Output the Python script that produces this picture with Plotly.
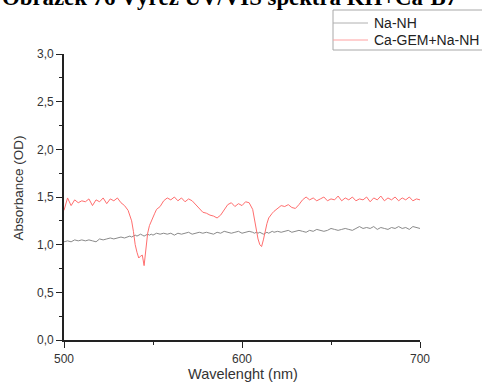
import plotly.graph_objects as go

# Wavelength grid (nm): 2 nm steps, 1 nm steps across the two absorption dips
wavelength = (list(range(500, 536, 2)) + list(range(536, 553)) +
              list(range(554, 606, 2)) + list(range(606, 619)) +
              list(range(620, 701, 2)))

# Absorbance (OD) of the reference sample
na_nh = [1.03, 1.04, 1.03, 1.05, 1.04, 1.05, 1.04, 1.05, 1.04, 1.03, 1.06, 1.05, 1.06, 1.07, 1.06, 1.07, 1.08, 1.07,
         1.08, 1.09, 1.08, 1.09, 1.10, 1.09, 1.10, 1.11, 1.10, 1.09, 1.10, 1.11, 1.10, 1.11, 1.10, 1.11, 1.12,
         1.11, 1.12, 1.11, 1.12, 1.10, 1.12, 1.11, 1.12, 1.13, 1.11, 1.12, 1.13, 1.12, 1.13, 1.12, 1.11, 1.13, 1.12,
         1.14, 1.13, 1.12, 1.13, 1.14, 1.12, 1.13, 1.14,
         1.13, 1.12, 1.13, 1.12, 1.13, 1.12, 1.11, 1.12, 1.13, 1.12, 1.13, 1.14, 1.13,
         1.14, 1.13, 1.14, 1.15, 1.13, 1.14, 1.15, 1.14, 1.13, 1.15, 1.14, 1.16, 1.15, 1.14, 1.15, 1.17, 1.16, 1.15,
         1.16, 1.17, 1.16, 1.15, 1.17, 1.19, 1.17, 1.18, 1.17, 1.19, 1.16, 1.18, 1.17, 1.16, 1.18, 1.17, 1.19, 1.17,
         1.18, 1.16, 1.19, 1.18, 1.17]

# Absorbance (OD) of Ca-GEM + Na-NH
ca_gem_na_nh = [1.36, 1.49, 1.41, 1.47, 1.44, 1.46, 1.45, 1.48, 1.41, 1.47, 1.45, 1.49, 1.43, 1.48, 1.46, 1.49, 1.44, 1.41,
                1.36, 1.31, 1.25, 1.14, 1.00, 0.92, 0.86, 0.88, 0.89, 0.78, 0.95, 1.12, 1.20, 1.25, 1.29, 1.33, 1.37,
                1.40, 1.46, 1.49, 1.47, 1.50, 1.46, 1.49, 1.45, 1.48, 1.46, 1.42, 1.37, 1.34, 1.33, 1.31, 1.30, 1.28, 1.31,
                1.37, 1.42, 1.44, 1.40, 1.43, 1.41, 1.45, 1.44,
                1.37, 1.27, 1.15, 1.06, 1.00, 0.98, 1.05, 1.15, 1.22, 1.28, 1.31, 1.33, 1.35,
                1.38, 1.41, 1.40, 1.42, 1.39, 1.38, 1.42, 1.47, 1.50, 1.47, 1.49, 1.46, 1.48, 1.50, 1.46, 1.48, 1.47, 1.51,
                1.46, 1.49, 1.47, 1.50, 1.46, 1.48, 1.47, 1.50, 1.45, 1.49, 1.47, 1.51, 1.46, 1.49, 1.47, 1.50, 1.46, 1.49,
                1.47, 1.50, 1.46, 1.48, 1.47]

series_names = ["Na-NH", "Ca-GEM+Na-NH"]
series_colors = ["#8a8a8a", "#ff6e6e"]
legend_colors = ["#b0b0b0", "#ffa0a0"]
x_ticks = [500, 600, 700]
y_ticks = [0.0, 0.5, 1.0, 1.5, 2.0, 2.5, 3.0]

SANS = "Liberation Sans, Arial, sans-serif"
W, H = 482, 386
ML, MR, MT, MB = 64, 62, 54, 46
PW, PH = W - ML - MR, H - MT - MB


def px(xp):
    return (xp - ML) / PW


def py(yp):
    return (H - MB - yp) / PH


fig = go.Figure()
for name, ys, col in zip(series_names, [na_nh, ca_gem_na_nh], series_colors):
    fig.add_trace(go.Scatter(x=wavelength, y=ys, mode="lines", name=name,
                             line=dict(color=col, width=1), showlegend=False))

axis_common = dict(showline=True, linecolor="#222222", linewidth=1.6, showgrid=False, zeroline=False,
                   ticks="outside", ticklen=6, tickwidth=1.3, tickcolor="#222222",
                   tickfont=dict(family=SANS, size=12, color="#333333"), mirror=False,
                   automargin=False)

fig.update_xaxes(range=[500, 700], tickvals=x_ticks, ticklabelstandoff=1,
                 minor=dict(dtick=50, tick0=500, ticks="outside", ticklen=3, tickcolor="#222222", tickwidth=1.3),
                 **axis_common)
fig.update_yaxes(range=[0, 3], tickvals=y_ticks, tickformat=".1f",
                 minor=dict(dtick=0.25, tick0=0, ticks="outside", ticklen=3, tickcolor="#222222", tickwidth=1.3),
                 **axis_common)

# Axis titles
fig.add_annotation(text="Wavelenght (nm)", xref="paper", yref="paper", x=px(242.5), y=py(374),
                   xanchor="center", yanchor="middle", showarrow=False,
                   font=dict(family=SANS, size=14.5, color="#333333"))
fig.add_annotation(text="Absorbance (OD)", xref="paper", yref="paper", x=px(17.5), y=py(188),
                   xanchor="center", yanchor="middle", showarrow=False, textangle=-90,
                   font=dict(family=SANS, size=13.5, color="#333333"))

# Figure caption along the top edge
fig.add_annotation(text="<b>Obrázek 76 Výřez UV/VIS spektra KH+Ca-B7</b>",
                   xref="paper", yref="paper", x=px(0), y=py(12),
                   xanchor="left", yanchor="bottom", showarrow=False,
                   font=dict(family="Liberation Serif, Times New Roman, serif", size=22.8, color="#000000"))

# Boxed legend in the top right corner
fig.add_shape(type="rect", xref="paper", yref="paper", x0=px(333), x1=px(520), y0=py(50), y1=py(10),
              line=dict(color="#a8a8a8", width=1), fillcolor="white", layer="above")
for name, col, ly in zip(series_names, legend_colors, [23, 40]):
    fig.add_shape(type="line", xref="paper", yref="paper", x0=px(333), x1=px(368), y0=py(ly), y1=py(ly),
                  line=dict(color=col, width=1), layer="above")
    fig.add_annotation(text=name, xref="paper", yref="paper", x=px(372), y=py(ly),
                       xanchor="left", yanchor="middle", showarrow=False,
                       font=dict(family=SANS, size=14, color="#222222"))

fig.update_layout(
    width=W, height=H,
    margin=dict(l=ML, r=MR, t=MT, b=MB, autoexpand=False),
    paper_bgcolor="white", plot_bgcolor="white",
    separators=",.",
    showlegend=False,
)

fig.write_html("out.html")
